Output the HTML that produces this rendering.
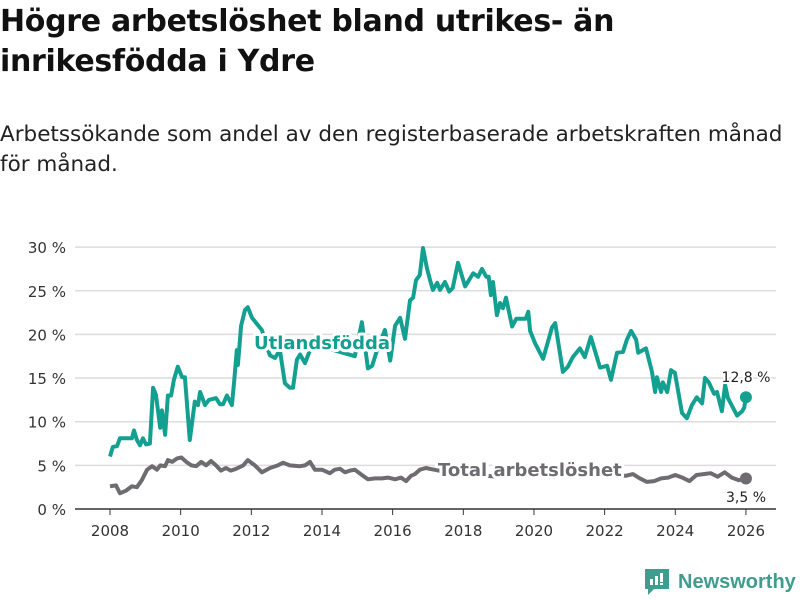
<!DOCTYPE html>
<html><head><meta charset="utf-8"><style>
body{margin:0;width:800px;height:600px;background:#fff;font-family:"DejaVu Sans","Liberation Sans",sans-serif;color:#111;overflow:hidden;position:relative}
h1{position:absolute;left:0;top:2px;margin:0;font-size:30px;line-height:40px;font-weight:bold;letter-spacing:-0.3px;width:790px}
.sub{position:absolute;left:0;top:120px;font-size:21.5px;line-height:30px;width:800px;color:#222;white-space:nowrap}
svg{position:absolute;left:0;top:0}
</style></head><body>
<h1>Högre arbetslöshet bland utrikes- än<br>inrikesfödda i Ydre</h1>
<div class="sub">Arbetssökande som andel av den registerbaserade arbetskraften månad<br>för månad.</div>
<svg id="c" width="800" height="600"></svg>
<script>
const yTicks=[0,5,10,15,20,25,30];
const yTickLabels=["0 %","5 %","10 %","15 %","20 %","25 %","30 %"];
const xTicks=[2008,2010,2012,2014,2016,2018,2020,2022,2024,2026];
const foreignYears=[2008,2008.08,2008.2,2008.28,2008.62,2008.68,2008.76,2008.85,2008.93,2009.02,2009.13,2009.22,2009.3,2009.42,2009.47,2009.56,2009.64,2009.73,2009.81,2009.92,2010.04,2010.12,2010.26,2010.4,2010.49,2010.55,2010.69,2010.8,2011,2011.11,2011.2,2011.31,2011.45,2011.51,2011.59,2011.62,2011.71,2011.82,2011.9,2012.02,2012.3,2012.42,2012.53,2012.67,2012.81,2012.95,2013.09,2013.18,2013.29,2013.38,2013.52,2013.66,2013.8,2014.09,2014.51,2014.93,2015.13,2015.3,2015.42,2015.56,2015.78,2015.93,2016.07,2016.21,2016.35,2016.49,2016.58,2016.66,2016.77,2016.86,2016.97,2017.06,2017.14,2017.26,2017.34,2017.48,2017.6,2017.7,2017.85,2018.05,2018.28,2018.42,2018.53,2018.65,2018.72,2018.78,2018.84,2018.95,2019.04,2019.12,2019.21,2019.38,2019.5,2019.77,2019.84,2019.89,2020.03,2020.26,2020.51,2020.6,2020.82,2020.96,2021.1,2021.3,2021.44,2021.61,2021.87,2022.07,2022.18,2022.35,2022.52,2022.63,2022.75,2022.89,2022.95,2023.17,2023.34,2023.43,2023.48,2023.6,2023.65,2023.77,2023.88,2023.99,2024.19,2024.33,2024.47,2024.61,2024.76,2024.84,2024.95,2025.1,2025.18,2025.32,2025.41,2025.49,2025.75,2025.89,2025.95,2026];
const foreignValues=[6.0,7.1,7.2,8.1,8.1,9.0,7.9,7.3,8.1,7.4,7.5,13.9,13.1,9.3,11.3,8.5,13.0,13.0,14.8,16.3,15.1,15.1,7.9,12.3,11.9,13.4,11.9,12.5,12.7,12.0,12.0,13.0,11.9,14.4,18.2,16.5,21.0,22.8,23.1,21.9,20.5,18.8,17.6,17.3,18.2,14.4,13.9,13.9,17.1,17.7,16.7,18.2,18.8,18.5,18.0,17.5,21.4,16.1,16.4,18.2,20.5,17.0,21.0,21.9,19.5,23.9,24.2,26.2,26.8,29.9,27.6,26.2,25.1,25.9,25.1,26.0,24.9,25.3,28.2,25.5,27.0,26.6,27.5,26.6,26.6,24.5,26.0,22.2,23.6,23.0,24.2,20.9,21.8,21.8,22.6,20.4,19.0,17.2,20.8,21.3,15.7,16.3,17.4,18.4,17.4,19.7,16.2,16.4,14.8,17.9,18.0,19.4,20.4,19.4,17.9,18.4,15.7,13.4,15.1,13.4,14.5,13.4,15.9,15.6,11.0,10.4,11.9,12.8,12.1,15.0,14.5,13.2,13.4,11.2,14.2,12.7,10.7,11.2,11.6,12.8];
const totalYears=[2008,2008.17,2008.28,2008.45,2008.62,2008.76,2008.9,2009.05,2009.19,2009.33,2009.42,2009.56,2009.64,2009.76,2009.9,2010.02,2010.16,2010.3,2010.44,2010.58,2010.72,2010.86,2011,2011.14,2011.28,2011.42,2011.57,2011.77,2011.9,2012.1,2012.3,2012.53,2012.75,2012.9,2013.09,2013.38,2013.52,2013.66,2013.8,2014,2014.22,2014.36,2014.51,2014.65,2014.79,2014.93,2015.13,2015.3,2015.5,2015.7,2015.87,2016.07,2016.24,2016.38,2016.52,2016.63,2016.77,2016.94,2017.05,2017.3,2018,2019,2020,2021,2022,2022.6,2022.8,2023,2023.2,2023.4,2023.6,2023.8,2024,2024.2,2024.4,2024.6,2024.8,2025,2025.2,2025.4,2025.6,2025.8,2026];
const totalValues=[2.6,2.7,1.8,2.1,2.6,2.5,3.3,4.5,4.9,4.5,5.0,4.9,5.6,5.4,5.8,5.9,5.4,5.0,4.9,5.4,5.0,5.5,5.0,4.4,4.7,4.4,4.6,5.0,5.6,5.0,4.2,4.7,5.0,5.3,5.0,4.9,5.0,5.4,4.5,4.5,4.1,4.5,4.6,4.2,4.4,4.5,3.9,3.4,3.5,3.5,3.6,3.4,3.6,3.2,3.8,4.0,4.5,4.7,4.6,4.4,4.0,3.7,4.2,4.5,3.9,3.8,4.0,3.5,3.1,3.2,3.5,3.6,3.9,3.6,3.2,3.9,4.0,4.1,3.7,4.2,3.6,3.3,3.5];
const NS="http://www.w3.org/2000/svg",svg=document.getElementById('c');
const X=y=>110+(y-2008)*35.33, Y=v=>509-v*8.73;
function el(t,a,p){const e=document.createElementNS(NS,t);for(const k in a)e.setAttribute(k,a[k]);(p||svg).appendChild(e);return e;}
yTicks.forEach((t,i)=>{
 const g=el('line',{x1:75,x2:776,y1:Y(t),y2:Y(t),stroke:t===0?'#333':'#dcdcdc','stroke-width':1.5});
 
 
 const tx=el('text',{x:66,y:Y(t)+6,'text-anchor':'end','font-size':15,fill:'#333'});
 tx.textContent=yTickLabels[i];
 
 
});
xTicks.forEach(t=>{
 const l=el('line',{x1:X(t),x2:X(t),y1:509,y2:515,stroke:'#333','stroke-width':1});
 
 
 const tx=el('text',{x:X(t),y:536,'text-anchor':'middle','font-size':15,fill:'#333'});
 tx.textContent=t;
 
 
});
function line(xs,vs,c,name){
 const p=el('path',{d:xs.map((x,i)=>(i?'L':'M')+X(x).toFixed(1)+','+Y(vs[i]).toFixed(1)).join(''),fill:'none',stroke:c,'stroke-width':4,'stroke-linejoin':'round'});
 
 
 const n=xs.length-1;
 const d=el('circle',{cx:X(xs[n]),cy:Y(vs[n]),r:6,fill:c});
 
 
}
line(totalYears,totalValues,'#6e6c70','total-line');
line(foreignYears,foreignValues,'#14a090','foreign-born-line');
function label(txt,x,y,c,name,size,anchor,bold){
 const t=el('text',{x:x,y:y,fill:c,'font-size':size,'font-weight':bold?'bold':'normal','text-anchor':anchor,stroke:'#fff','stroke-width':bold?6:4,'paint-order':'stroke','stroke-linejoin':'round'});
 t.textContent=txt;
 
 
}
label('Utlandsfödda',254,349,'#14a090','foreign-born-label',18,'start',true);
label('Total arbetslöshet',438,476,'#6e6c70','total-label',18,'start',true);
label('12,8 %',746,382,'#222','foreign-end-value',14,'middle',false);
label('3,5 %',746,502,'#222','total-end-value',14,'middle',false);
</script>
<div style="position:absolute;left:645px;top:569px;height:26px;display:flex;align-items:center">
 <svg width="24" height="26" viewBox="0 0 24 26" style="position:static"><path d="M0 0H24V20H9L3 26V20H0Z" fill="#3f9c8f"/><rect x="5" y="10" width="3" height="6" fill="#fff"/><rect x="10" y="7" width="3" height="9" fill="#fff"/><rect x="15" y="4" width="3" height="9" fill="#fff"/><rect x="15" y="14" width="3" height="2" fill="#fff"/></svg>
 <span style="margin-left:9px;font-size:20px;color:#3f9c8f;font-weight:bold;font-family:'Liberation Sans',sans-serif">Newsworthy</span>
</div>
</body></html>
